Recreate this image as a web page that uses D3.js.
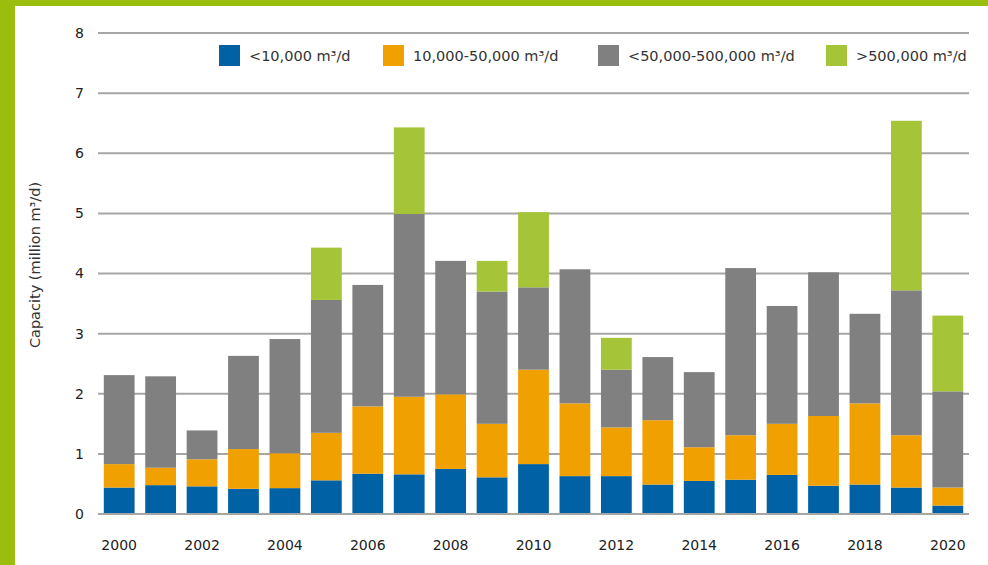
<!DOCTYPE html>
<html>
<head>
<meta charset="utf-8">
<script src="https://cdn.jsdelivr.net/npm/d3@7"></script>
<style>
  body { margin: 0; background: #9bbe0e; }
  svg { display: block; }
</style>
</head>
<body>
<script>
const years = d3.range(2000, 2021);
const small = [0.44, 0.48, 0.46, 0.42, 0.43, 0.56, 0.67, 0.66, 0.75, 0.61, 0.83, 0.63, 0.63, 0.49, 0.55, 0.57, 0.65, 0.47, 0.49, 0.44, 0.14];
const medium = [0.39, 0.29, 0.45, 0.66, 0.58, 0.79, 1.12, 1.29, 1.24, 0.89, 1.57, 1.21, 0.81, 1.07, 0.56, 0.74, 0.85, 1.16, 1.35, 0.87, 0.30];
const large = [1.48, 1.52, 0.48, 1.55, 1.90, 2.21, 2.02, 3.04, 2.22, 2.20, 1.37, 2.23, 0.96, 1.05, 1.25, 2.78, 1.96, 2.39, 1.49, 2.41, 1.60];
const huge = [0, 0, 0, 0, 0, 0.87, 0, 1.44, 0, 0.51, 1.25, 0, 0.53, 0, 0, 0, 0, 0, 0, 2.82, 1.26];
const seriesKeys = ["small", "medium", "large", "huge"];
const seriesLabels = ["<10,000 m\u00b3/d", "10,000-50,000 m\u00b3/d", "<50,000-500,000 m\u00b3/d", ">500,000 m\u00b3/d"];
const colors = ["#0061a5", "#f0a000", "#808080", "#a5c437"];
const yTicks = [0, 1, 2, 3, 4, 5, 6, 7, 8];
const xTickYears = [2000, 2002, 2004, 2006, 2008, 2010, 2012, 2014, 2016, 2018, 2020];

const width = 988, height = 565;
const font = "'DejaVu Sans', sans-serif";

const rows = years.map((yr, i) => ({
  year: yr, small: small[i], medium: medium[i], large: large[i], huge: huge[i]
}));

const svg = d3.select("body").append("svg")
  .attr("width", width)
  .attr("height", height);

// white panel inside the green frame
svg.append("rect")
  .attr("x", 15).attr("y", 6)
  .attr("width", width - 15).attr("height", height - 6)
  .attr("fill", "#fff");

const x = d3.scaleBand()
  .domain(years)
  .range([98, 969])
  .paddingInner(0.257)
  .paddingOuter(0.14);

const y = d3.scaleLinear()
  .domain([0, 8])
  .range([514, 33]);

// gridlines
svg.append("g")
  .selectAll("line")
  .data(yTicks)
  .join("line")
  .attr("x1", 98).attr("x2", 969)
  .attr("y1", d => y(d)).attr("y2", d => y(d))
  .attr("stroke", "#a6a6a6")
  .attr("stroke-width", 2);

// y tick labels
svg.append("g")
  .selectAll("text")
  .data(yTicks)
  .join("text")
  .attr("x", 84)
  .attr("y", d => y(d))
  .attr("dy", "0.35em")
  .attr("text-anchor", "end")
  .attr("font-family", font)
  .attr("font-size", 14)
  .attr("fill", "#222")
  .text(d => d);

const stack = d3.stack().keys(seriesKeys)(rows);

svg.append("g")
  .selectAll("g")
  .data(stack)
  .join("g")
  .attr("fill", (d, i) => colors[i])
  .selectAll("rect")
  .data(d => d)
  .join("rect")
  .attr("x", d => x(d.data.year))
  .attr("width", x.bandwidth())
  .attr("y", d => y(d[1]))
  .attr("height", d => y(d[0]) - y(d[1]));

// baseline drawn over bars
svg.append("line")
  .attr("x1", 98).attr("x2", 969)
  .attr("y1", y(0)).attr("y2", y(0))
  .attr("stroke", "#a6a6a6")
  .attr("stroke-width", 2);

// x labels
svg.append("g")
  .selectAll("text")
  .data(xTickYears)
  .join("text")
  .attr("x", d => x(d) + x.bandwidth() / 2)
  .attr("y", 550)
  .attr("text-anchor", "middle")
  .attr("font-family", font)
  .attr("font-size", 14)
  .attr("fill", "#222")
  .text(d => d);

// y axis title
svg.append("text")
  .attr("transform", "translate(40,265) rotate(-90)")
  .attr("text-anchor", "middle")
  .attr("font-family", font)
  .attr("font-size", 14.5)
  .attr("fill", "#333")
  .text("Capacity (million m\u00b3/d)");

// legend
const legendX = [219, 383, 598, 826];
const legend = svg.append("g")
  .selectAll("g")
  .data(seriesLabels)
  .join("g")
  .attr("transform", (d, i) => `translate(${legendX[i]},45)`);

legend.append("rect")
  .attr("width", 21).attr("height", 21)
  .attr("fill", (d, i) => colors[i]);

legend.append("text")
  .attr("x", 30)
  .attr("y", 16)
  .attr("font-family", font)
  .attr("font-size", 14.5)
  .attr("fill", "#333")
  .text(d => d);
</script>
</body>
</html>
